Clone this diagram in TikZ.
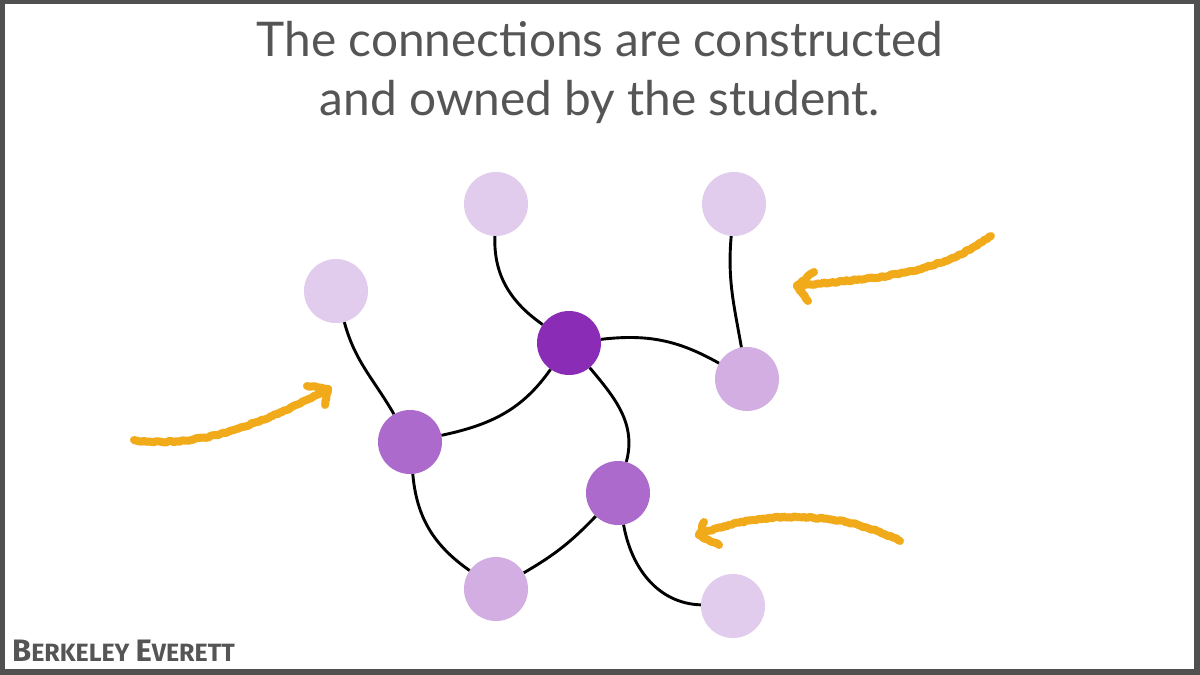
\documentclass[tikz,border=0pt]{standalone}
\usepackage{fontspec}
\setmainfont{Lato}
\newfontfamily\signfont{Fira Sans}
\usetikzlibrary{decorations.pathmorphing}
\definecolor{frame}{HTML}{505050}
\definecolor{titlegray}{HTML}{555555}
\definecolor{plight}{HTML}{E2CCEE}
\definecolor{pmedlight}{HTML}{D2AEE2}
\definecolor{pmed}{HTML}{AC6BCC}
\definecolor{pdark}{HTML}{8A2CB5}
\definecolor{crayon}{HTML}{F0AA1A}
\tikzset{
  dot/.style={circle, minimum size=64pt, inner sep=0pt},
  lightdot/.style={dot, fill=plight},
  medlightdot/.style={dot, fill=pmedlight},
  meddot/.style={dot, fill=pmed},
  darkdot/.style={dot, fill=pdark},
  link/.style={black, line width=2.9pt},
  crayonline/.style={crayon, line width=8pt, line cap=round, line join=round,
    decorate, decoration={random steps, segment length=2.5pt, amplitude=0.8pt}},
}
\begin{document}
\begin{tikzpicture}[x=1pt, y=-1pt]
\useasboundingbox (0,0) rectangle (1200,675);
\fill[frame] (0,0) rectangle (1200,675);
\fill[white] (5,4) rectangle (1194,669);

\node[titlegray, font=\fontsize{47.8}{59}\selectfont, align=center] (title) at (600,72)
  {The connections are constructed\\and owned by the student.};

\node[titlegray, anchor=base west, inner sep=0pt] (sign) at (12,661)
  {\signfont\bfseries\fontsize{31}{31}\selectfont B\fontsize{25}{25}\selectfont ERKELEY
   \fontsize{31}{31}\selectfont E\fontsize{25}{25}\selectfont VERETT};

% nodes
\node[lightdot] (tl) at (336,291) {};
\node[lightdot] (tm) at (496,204) {};
\node[lightdot] (tr) at (734,204) {};
\node[darkdot] (c) at (569,343) {};
\node[medlightdot] (r) at (747,379) {};
\node[meddot] (l) at (410,442) {};
\node[meddot] (lr) at (618,493) {};
\node[medlightdot] (b) at (496,589) {};
\node[lightdot] (br) at (733,606) {};

% connections
\draw[link] (tl) to[out=-75, in=120] (l);
\draw[link] (l) to[out=12, in=-125] (c);
\draw[link] (tm) to[out=-92, in=145] (c);
\draw[link] (c) to[bend left=18] (r);
\draw[link] (tr) to[out=-95, in=100] (r);
\draw[link] (c) to[out=-50, in=75] (lr);
\draw[link] (l) to[out=-85, in=145] (b);
\draw[link] (b) to[bend right=8] (lr);
\draw[link] (lr) to[out=-80, in=178] (br);

% crayon arrows
\coordinate (a1s) at (134,440);
\coordinate (a1e) at (328,389);
\draw[crayonline] (a1s) .. controls (200,450) and (270,420) .. (a1e);
\draw[crayonline] (307,386) -- (a1e) -- (325,405);

\coordinate (a2s) at (991,236);
\coordinate (a2e) at (797,286);
\draw[crayonline] (a2s) .. controls (930,280) and (860,278) .. (a2e);
\draw[crayonline] (814,272) -- (a2e) -- (808,301);

\coordinate (a3s) at (900,541);
\coordinate (a3e) at (699,535);
\draw[crayonline] (a3s) .. controls (840,510) and (760,510) .. (a3e);
\draw[crayonline] (704,522) -- (a3e) -- (719,545);
\end{tikzpicture}
\end{document}
